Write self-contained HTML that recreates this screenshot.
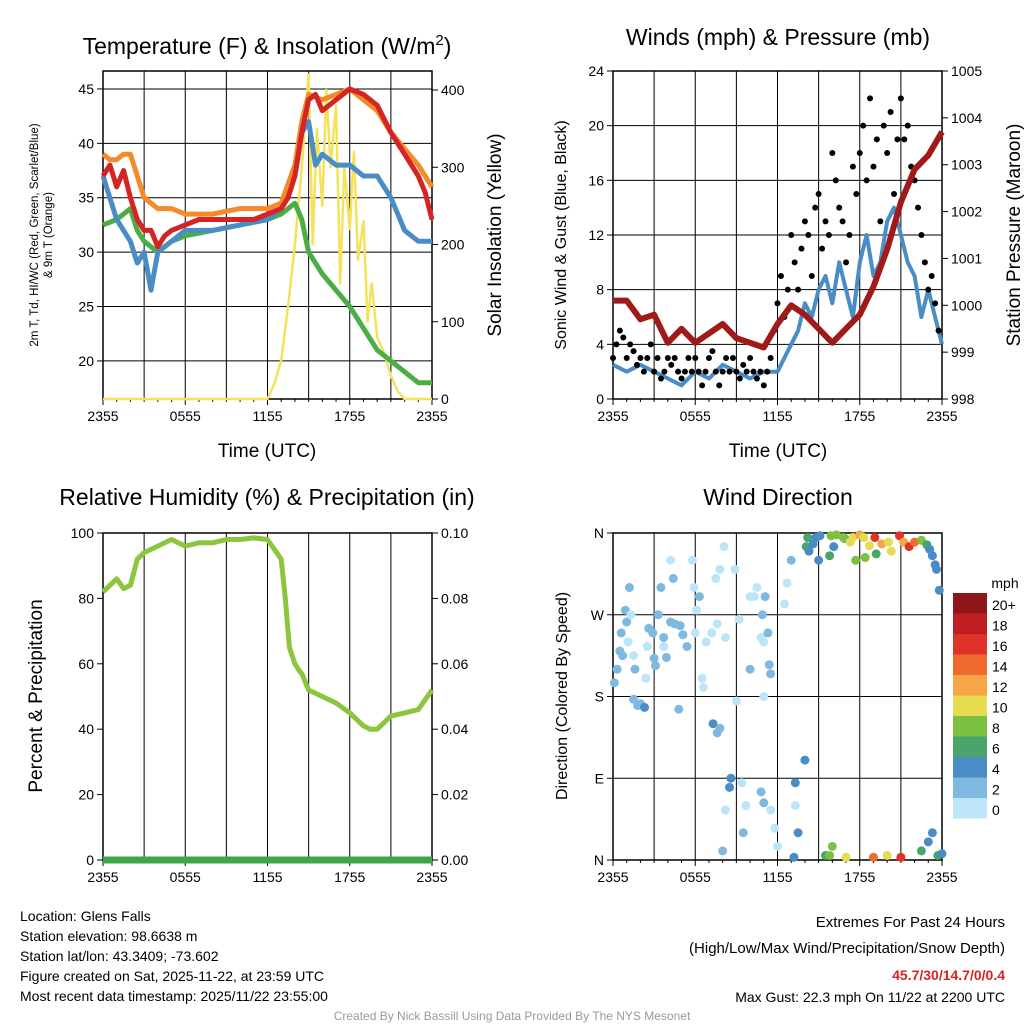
<!DOCTYPE html>
<html><head><meta charset="utf-8"><style>
body{margin:0;background:#fff;font-family:"Liberation Sans",sans-serif}
svg text{font-family:"Liberation Sans",sans-serif}
</style></head><body>
<svg id="c" width="1024" height="1024" xmlns="http://www.w3.org/2000/svg"></svg>
<script>
// ---- data ----
const redT=[0,0.5,1,1.5,2,2.5,3,3.5,4,4.5,5,6,7,8,9,10,11,12,13,13.5,14,14.5,15,15.5,16,17,18,19,20,21,22,23,23.5,24];
const redV=[37,38,36,37.5,35,33,32,32,30.5,31.5,32,32.5,33,33,33,33,33,33.5,34,35,37,41,44,44.5,43,44,45,44.5,43.5,41,39,37,35.5,33];
const orgT=[0,0.5,1,1.5,2,2.5,3,4,5,6,8,10,12,13,14,14.5,15,16,17,18,19,20,21,22,23,24];
const orgV=[39,38.5,38.5,39,39,37,35,34,34,33.5,33.5,34,34,34.5,38,42,44.5,44,44.5,45,44,43,41,39.5,38,36];
const grnT=[0,1,2,2.5,3,4,5,6,8,10,12,13,14,14.5,15,16,17,18,19,20,21,22,23,24];
const grnV=[32.5,33,34,32,31,30,31,31.5,32,32.5,33,33.5,34.5,33,30,28,26.5,25,23,21,20,19,18,18];
const bluT=[0,1,2,2.5,3,3.5,4,5,6,8,10,12,13,14,14.5,15,15.5,16,17,18,19,20,21,22,23,24];
const bluV=[37,33,31,29,30,26.5,30,31,32,32,32.5,33,34,37,41,42,38,39,38,38,37,37,35,32,31,31];
const solT=[0,12,12.5,13,13.5,14,14.5,15,15.3,15.6,16,16.3,16.6,17,17.3,17.6,18,18.3,18.6,19,19.3,19.6,20,20.5,21,21.5,22,24];
const solV=[0,0,20,50,120,200,300,420,200,350,250,400,300,380,150,300,220,320,180,230,100,150,80,60,30,10,0,0];
const wndT=[0,1,2,3,4,5,6,7,8,9,10,11,12,13,13.5,14,14.5,15,15.5,16,16.5,17,17.5,18,18.5,19,19.5,20,20.5,21,21.5,22,22.5,23,23.5,24];
const wndV=[2.5,2,2.5,2,1.5,1,2,1.5,2.5,2,1.5,2,2,4,5,7,6,8,9,7,10,8,6,10,12,9,10,13,14,12,10,9,6,8,6,4];
const gustV=[3,4,5,4.5,3,4,3.5,2.5,3,2,3,4,2,3,1.5,2,3,2.5,3,2,1.5,2,3,2,3,2,1,2,3,3.5,2,1,2,3,2,3,2,1.5,2.5,2,3,2,1.5,2,1,2,3,5,7,9,6,8,12,10,8,11,13,12,9,14,15,11,13,12,18,16,14,13,10,12,17,15,18,20,16,22,17,19,13,20,18,21,15,19,22,19,20,17,16,14,12,10,8,9,7,5];
const presT=[0,1,2,3,4,5,6,7,8,9,10,11,12,13,14,15,16,17,18,19,20,21,22,23,24];
const presV=[1000.1,1000.1,999.7,999.8,999.2,999.5,999.2,999.4,999.6,999.3,999.2,999.1,999.6,1000,999.8,999.5,999.2,999.5,999.8,1000.4,1001.2,1002.2,1002.9,1003.2,1003.7];
const rhT=[0,0.5,1,1.5,2,2.5,3,4,5,6,7,8,9,10,11,12,13,13.3,13.6,14,14.3,14.5,15,16,17,18,19,19.5,20,21,22,23,24];
const rhV=[82,84,86,83,84,92,94,96,98,96,97,97,98,98,98.5,98,92,80,65,60,58,57,52,50,48,45,41,40,40,44,45,46,52];
const wdPts=[[0.1,195,2],[0.3,210,3],[0.5,230,3],[0.7,225,3],[0.6,250,3],[0.9,275,3],[1.0,262,3],[1.2,300,3],[1.3,270,1],[1.1,240,1],[1.5,225,1],[1.6,210,3],[1.5,177,3],[1.8,170,3],[2.0,172,3],[2.3,168,4],[2.4,200,1],[2.5,235,1],[2.6,255,3],[2.9,250,3],[3.0,222,3],[3.1,214,3],[3.3,270,3],[3.5,300,3],[3.7,245,3],[3.9,223,3],[4.2,262,3],[4.5,260,3],[4.9,258,3],[5.1,248,2],[5.4,235,3],[4.8,166,3],[3.7,235,1],[4.2,330,1],[4.4,310,3],[5.8,330,1],[5.9,300,1],[6.1,275,1],[6.3,290,3],[6.0,250,1],[6.5,200,1],[6.6,190,1],[6.8,240,1],[7.2,250,1],[7.5,310,1],[7.8,320,1],[7.6,260,1],[7.3,150,5],[7.6,140,3],[7.8,145,2],[8.1,345,1],[8.2,245,1],[8.9,320,1],[9.2,265,1],[9.0,175,1],[10.0,210,3],[10.3,290,1],[10.5,300,1],[10.0,290,1],[10.8,245,1],[11.0,240,1],[11.0,180,1],[10.9,270,3],[11.1,290,3],[11.3,250,3],[11.4,215,3],[11.5,205,3],[12.5,282,1],[13.0,330,3],[12.7,305,1],[9.7,60,1],[9.4,85,1],[8.6,90,5],[8.5,80,4],[8.2,55,1],[8.0,10,3],[9.5,30,2],[10.8,75,3],[11.0,63,3],[11.5,55,1],[11.8,35,1],[12.0,15,1],[13.3,60,1],[14.0,110,4],[13.3,85,4],[13.5,30,4],[13.2,3,4],[15.5,5,6],[15.8,5,8],[16.0,15,8],[17.0,3,10],[19.0,3,14],[20.0,5,10],[21.0,3,16],[22.5,10,6],[23.0,20,4],[23.3,30,4],[23.7,5,6],[24.0,7,4],[14.2,355,6],[14.1,345,6],[14.6,348,4],[14.8,355,4],[15.0,330,4],[15.1,357,4],[15.9,357,8],[16.3,358,8],[16.9,354,4],[16.8,355,8],[17.3,350,10],[17.5,355,10],[18.0,358,12],[18.3,355,10],[18.7,346,10],[19.1,355,16],[19.6,348,12],[20.1,350,10],[20.3,340,10],[20.9,357,16],[21.2,350,12],[21.6,345,16],[22.0,350,14],[22.5,352,8],[22.9,347,6],[23.1,342,4],[23.3,335,4],[23.6,320,4],[23.8,297,4],[17.7,330,8],[18.4,333,8],[19.2,337,6],[16.1,345,4],[15.8,335,6],[23.5,325,4],[14.3,340,4]];
const cbLabels=["20+","18","16","14","12","10","8","6","4","2","0"];
const cbColors=["#8e1519","#bf1d22","#dd3328","#ef6a2c","#f6a644","#e5dc50","#7dc142","#4aa56b","#4a8cc6","#7fb8e0","#bde5f8"];
const xTicks=["2355","0555","1155","1755","2355"];

const S=document.getElementById('c');const NS="http://www.w3.org/2000/svg";
function el(t,a,p){const e=document.createElementNS(NS,t);for(const k in a)e.setAttribute(k,a[k]);(p||S).appendChild(e);return e;}
function txt(x,y,s,o){o=o||{};const e=el('text',{x:x,y:y,'font-size':o.fs||14,'text-anchor':o.a||'middle',fill:o.fill||'#000','font-weight':o.fw||'normal'});if(o.rot)e.setAttribute('transform',`rotate(${o.rot} ${x} ${y})`);e.textContent=s;return e;}
function scale(d0,d1,r0,r1){return v=>r0+(v-d0)/(d1-d0)*(r1-r0);}

function panel(name,L,T,R,B,ymin,ymax,lt,lLabels,grid){
  const g=el('g',{});
  const X=scale(0,24,L,R),Y=scale(ymin,ymax,B,T);
  for(let h=3;h<24;h+=3)el('line',{x1:X(h),x2:X(h),y1:T,y2:B,stroke:'#000','stroke-width':1},g);
  if(grid)lt.forEach(v=>el('line',{x1:L,x2:R,y1:Y(v),y2:Y(v),stroke:'#000','stroke-width':1},g));
  el('rect',{x:L,y:T,width:R-L,height:B-T,fill:'none',stroke:'#000','stroke-width':1.5},g);
  lt.forEach((v,i)=>{el('line',{x1:L-6,x2:L,y1:Y(v),y2:Y(v),stroke:'#000'},g);txt(L-9,Y(v)+5,lLabels[i],{a:'end'});});
  xTicks.forEach((s,i)=>{const x=X(i*6);el('line',{x1:x,x2:x,y1:B,y2:B+6,stroke:'#000'},g);txt(x,B+22,s);});
  for(let h=1;h<24;h++)if(h%6)el('line',{x1:X(h),x2:X(h),y1:B,y2:B+3,stroke:'#000'},g);
  return {g,X,Y};
}
function line(g,X,Y,ts,vs,col,w,nm){let d='';ts.forEach((t,i)=>d+=(i?'L':'M')+X(t).toFixed(1)+' '+Y(vs[i]).toFixed(1));const p=el('path',{d:d,fill:'none',stroke:col,'stroke-width':w,'stroke-linejoin':'round'},g);}
function rightAxis(g,R,Y,vals,labels){vals.forEach((v,i)=>{el('line',{x1:R,x2:R+6,y1:Y(v),y2:Y(v),stroke:'#000'},g);txt(R+9,Y(v)+5,labels[i],{a:'start'});});}

// Panel 1
let p=panel('temperature-panel',103,71,432,399,16.5,46.65,[20,25,30,35,40,45],["20","25","30","35","40","45"],true);
let Ys=scale(0,400,399,90);
line(p.g,p.X,Ys,solT,solV,'#f5e25a',2.5,'insolation-line');
line(p.g,p.X,p.Y,grnT,grnV,'#4aae44',5,'dewpoint-line');
line(p.g,p.X,p.Y,bluT,bluV,'#4a8cc6',5,'windchill-line');
line(p.g,p.X,p.Y,orgT,orgV,'#f48a2a',5,'9m-temp-line');
line(p.g,p.X,p.Y,redT,redV,'#d42424',5,'2m-temp-line');
rightAxis(p.g,432,Ys,[0,100,200,300,400],["0","100","200","300","400"]);
const t1=txt(267,54,'Temperature (F) & Insolation (W/m',{fs:23});const sup=el('tspan',{dy:-9,'font-size':15},t1);sup.textContent='2';const cl=el('tspan',{dy:9},t1);cl.textContent=')';
txt(267,458,'Time (UTC)',{fs:19}).setAttribute('y',457);
txt(38,235,'2m T, Td, HI/WC (Red, Green, Scarlet/Blue)',{fs:11.5,rot:-90});
txt(52,235,'& 9m T (Orange)',{fs:11.5,rot:-90});
txt(501,235,'Solar Insolation (Yellow)',{fs:19,rot:-90});

// Panel 2
p=panel('wind-panel',613,71,942,399,0,24,[0,4,8,12,16,20,24],["0","4","8","12","16","20","24"],true);
let Yp=scale(998,1005,399,71);
line(p.g,p.X,p.Y,wndT,wndV,'#4a8cc6',4,'sonic-wind-line');
gustV.forEach((v,i)=>{const c=el('circle',{cx:p.X(i*0.25),cy:p.Y(v),r:3,fill:'#000'},p.g);});
line(p.g,p.X,Yp,presT,presV,'#a01a1a',6,'pressure-line');
rightAxis(p.g,942,Yp,[998,999,1000,1001,1002,1003,1004,1005],["998","999","1000","1001","1002","1003","1004","1005"]);
txt(778,45,'Winds (mph) & Pressure (mb)',{fs:23});
txt(778,457,'Time (UTC)',{fs:19});
txt(566,235,'Sonic Wind & Gust (Blue, Black)',{fs:16,rot:-90});
txt(1020,235,'Station Pressure (Maroon)',{fs:19,rot:-90});

// Panel 3
p=panel('humidity-panel',103,533,432,860,0,100,[0,20,40,60,80,100],["0","20","40","60","80","100"],false);
line(p.g,p.X,p.Y,rhT,rhV,'#8cc63f',5,'rh-line');
line(p.g,p.X,p.Y,[0,24],[0,0],'#3fa648',7,'precip-line');
let Yq=scale(0,0.1,860,533);
rightAxis(p.g,432,Yq,[0,0.02,0.04,0.06,0.08,0.1],["0.00","0.02","0.04","0.06","0.08","0.10"]);
txt(267,505,'Relative Humidity (%) & Precipitation (in)',{fs:23});
txt(42,696,'Percent & Precipitation',{fs:19,rot:-90});

// Panel 4
p=panel('wind-direction-panel',613,533,942,860,0,360,[0,90,180,270,360],["N","E","S","W","N"],true);
function spdCol(s){return cbColors[10-Math.min(10,Math.floor(s/2))];}
wdPts.forEach(q=>{const c=el('circle',{cx:p.X(q[0]),cy:p.Y(q[1]),r:4.5,fill:spdCol(q[2])},p.g);});
txt(778,505,'Wind Direction',{fs:23});
txt(567,696,'Direction (Colored By Speed)',{fs:16,rot:-90});
const cb=el('g',{});
txt(1005,588,'mph',{fs:14});
cbColors.forEach((c,i)=>{el('rect',{x:953,y:593+i*20.5,width:34,height:20.5,fill:c},cb);txt(992,610+i*20.5,cbLabels[i],{fs:14,a:'start'});});

// Footer
const info=["Location: Glens Falls","Station elevation: 98.6638 m","Station lat/lon: 43.3409; -73.602","Figure created on Sat, 2025-11-22, at 23:59 UTC","Most recent data timestamp: 2025/11/22 23:55:00"];
info.forEach((s,i)=>txt(20,921+i*20,s,{a:'start'}));
txt(1005,927,'Extremes For Past 24 Hours',{a:'end',fs:15});
txt(1005,953,'(High/Low/Max Wind/Precipitation/Snow Depth)',{a:'end',fs:15});
txt(1005,980,'45.7/30/14.7/0/0.4',{a:'end',fill:'#d42424',fw:'bold'});
txt(1005,1002,'Max Gust: 22.3 mph On 11/22 at 2200 UTC',{a:'end'});
txt(512,1020,'Created By Nick Bassill Using Data Provided By The NYS Mesonet',{fs:12,fill:'#999'});
</script>
</body></html>
